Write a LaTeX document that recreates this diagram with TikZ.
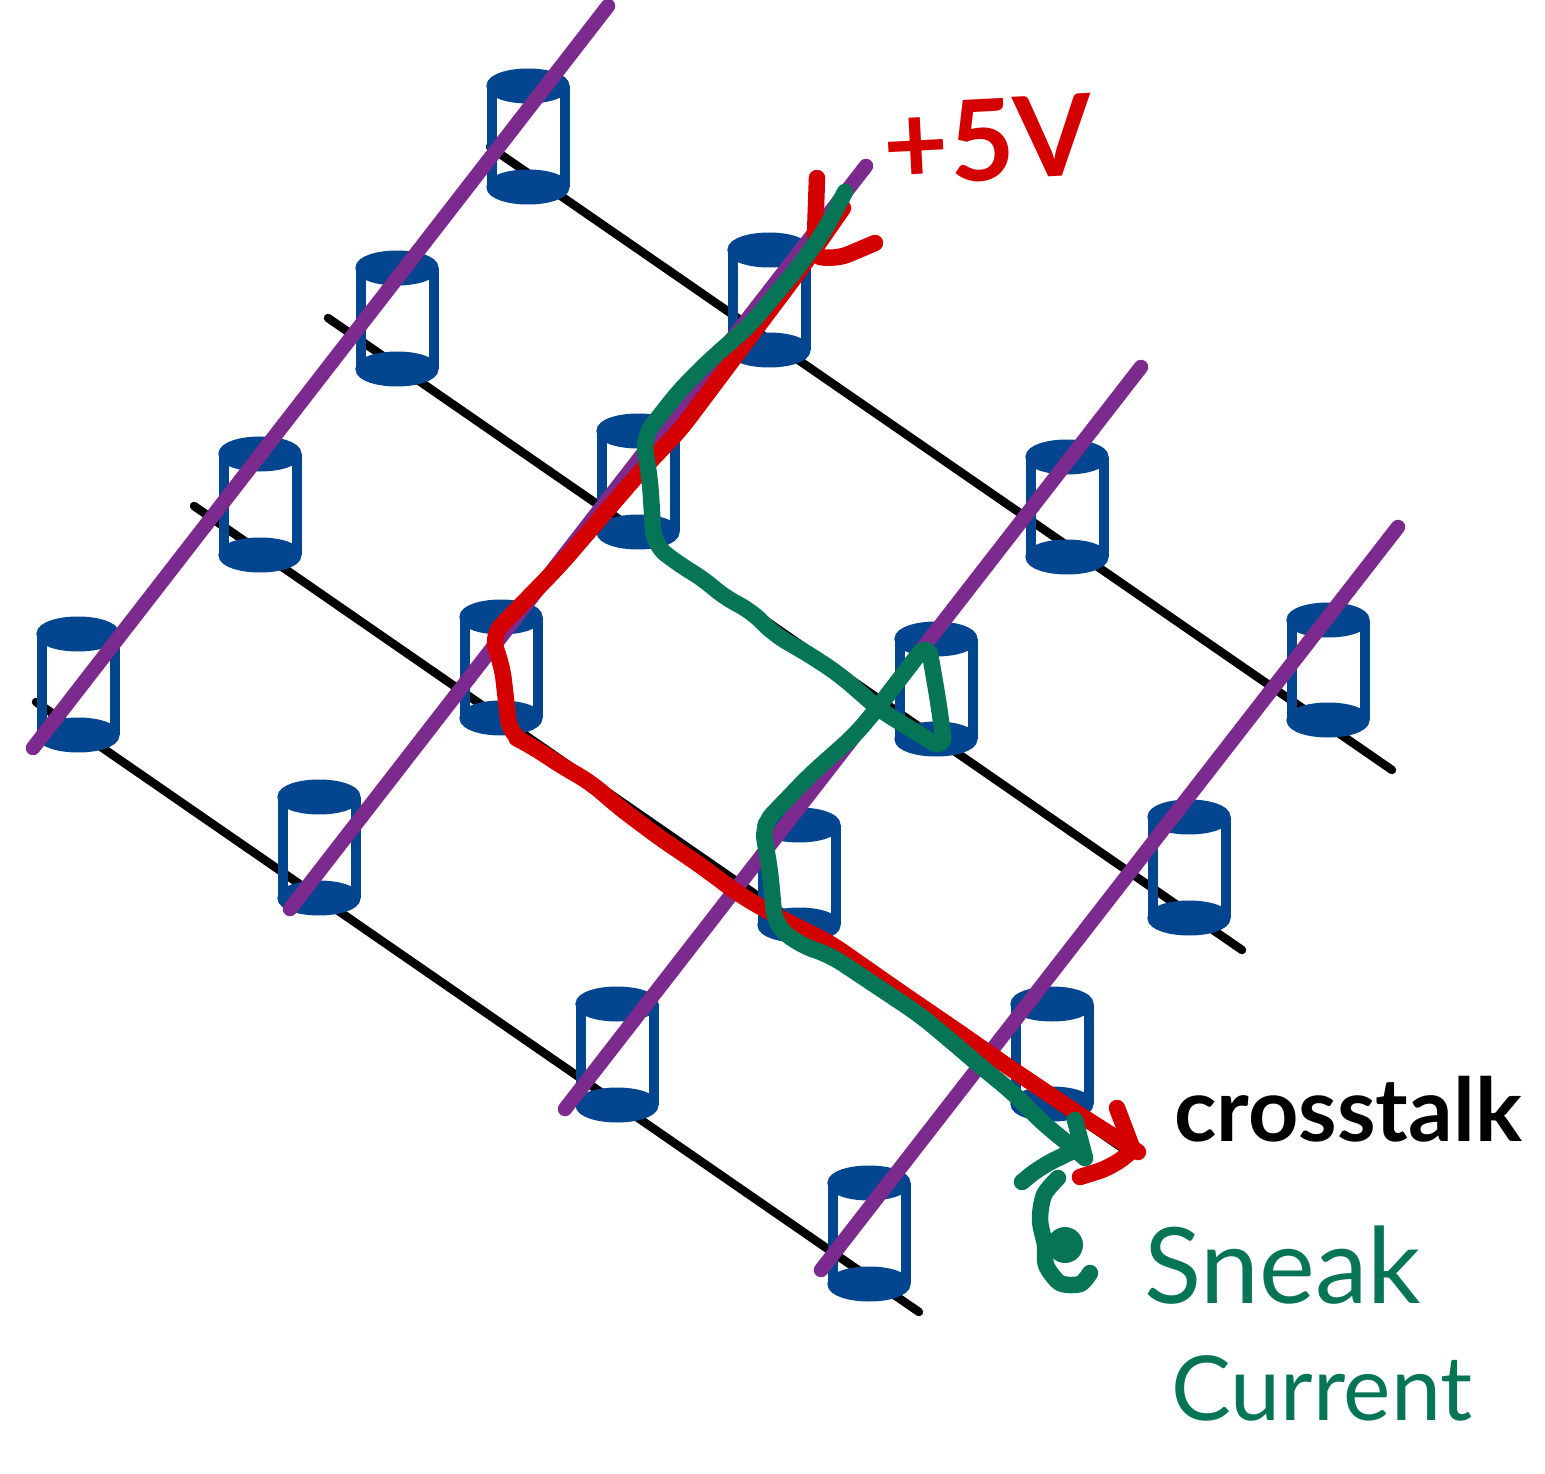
\documentclass[tikz,border=0pt]{standalone}
\usepackage{fontspec}
\usepackage{xcolor}
\setmainfont{Lato}
\usetikzlibrary{arrows.meta,calc,positioning,shapes.geometric}
\definecolor{cellblue}{HTML}{04458F}
\definecolor{linepurple}{HTML}{7D2A8E}
\definecolor{crossred}{HTML}{D40000}
\definecolor{sneakgreen}{HTML}{067556}

\begin{document}
\begin{tikzpicture}[
        x=0.1mm,
        y=-0.1mm,
        cellcap/.style={
            ellipse,
            draw=cellblue,
            fill=cellblue,
            line width=1mm,
            minimum width=7.3mm,
            minimum height=2.5mm,
            inner sep=0pt,
            outer sep=0pt
        },
        wall/.style={
            draw=cellblue,
            line width=1mm
        },
        wordline/.style={
            draw=black,
            line width=0.85mm,
            line cap=round
        },
        bitline/.style={
            draw=linepurple,
            line width=1.45mm,
            line cap=round
        },
        crosspath/.style={
            draw=crossred,
            line width=1.65mm,
            line cap=round,
            line join=round,
            rounded corners=1.5mm
        },
        sneakpath/.style={
            draw=sneakgreen,
            line width=1.65mm,
            line cap=round,
            line join=round,
            rounded corners=1.5mm
        },
        textlabel/.style={
            inner sep=0pt,
            align=center
        }
    ]

        \path[use as bounding box] (0,0) rectangle (1545,1474);

        % Ends of the black lines
        \coordinate (word-a-start) at (490,147);
        \coordinate (word-a-end)   at (1392,770);
        \coordinate (word-b-start) at (328,318);
        \coordinate (word-b-end)   at (1242,950);
        \coordinate (word-c-start) at (194,506);
        \coordinate (word-c-end)   at (1125,1150);
        \coordinate (word-d-start) at (36,702);
        \coordinate (word-d-end)   at (919,1312);

        \foreach \w in {a,b,c,d} {
            \draw[wordline] (word-\w-start) -- (word-\w-end);
        }

        % Cylinders: name / x / top y / bottom y
        \foreach \n/\cx/\ty/\by in {
            1/528/86/187, 2/397/268/369, 3/260/454/555, 4/78/634/735,
            5/769/250/350, 6/638/431/532, 7/501/617/718, 8/319/797/898,
            9/1067/457/557, 10/936/639/739, 11/799/825/925, 12/617/1004/1105,
            13/1328/620/720, 14/1189/817/918, 15/1052/1004/1104, 16/869/1183/1284
        } {
            \node[cellcap] (top-\n)  at (\cx,\ty) {};
            \node[cellcap] (base-\n) at (\cx,\by) {};
            \draw[wall] (top-\n.west) -- (base-\n.west);
            \draw[wall] (top-\n.east) -- (base-\n.east);
        }

        % Purple lines
        \coordinate (bit-a-start) at (33,748);
        \coordinate (bit-a-end)   at (608,6);
        \coordinate (bit-b-start) at (290,909);
        \coordinate (bit-b-end)   at (866,166);
        \coordinate (bit-c-start) at (565,1109);
        \coordinate (bit-c-end)   at (1141,367);
        \coordinate (bit-d-start) at (821,1270);
        \coordinate (bit-d-end)   at (1398,527);

        \foreach \b in {a,b,c,d} {
            \draw[bitline] (bit-\b-start) -- (bit-\b-end);
        }

        % Crosstalk path, red
        \coordinate (cross-start) at (843,208);
        \coordinate (cross-end)   at (1138,1152);

        \draw[crosspath]
            (cross-start) -- (800,270) -- (740,350) -- (680,430) -- (640,472)
            -- (560,565) -- (491,636) -- (502,665) -- (510,735) -- (530,745)
            -- (565,768) -- (590,782) -- (620,808) -- (660,838) -- (700,865)
            -- (740,895) -- (780,918) -- (830,943) -- (900,992) -- (960,1033)
            -- (1010,1068) -- (1080,1115) -- (cross-end);

        % Red arrow strokes
        \coordinate (cross-head-a) at (817,178);
        \coordinate (cross-head-b) at (815,235);
        \coordinate (cross-head-c) at (820,257);
        \coordinate (cross-head-d) at (875,243);
        \coordinate (cross-head-e) at (1117,1108);
        \coordinate (cross-head-f) at (1133,1150);
        \coordinate (cross-head-g) at (1080,1177);

        \draw[crosspath] (cross-head-a) -- (cross-head-b);
        \draw[crosspath] (cross-head-c) -- (835,260) -- (cross-head-d);
        \draw[crosspath] (cross-head-e) -- (cross-head-f);
        \draw[crosspath] (cross-head-g) -- (1112,1167) -- (cross-head-f);

        % Sneak current path, green
        \coordinate (sneak-start) at (845,192);
        \coordinate (sneak-end)   at (1085,1158);

        \draw[sneakpath]
            (sneak-start) -- (825,230) -- (800,265) -- (750,325) -- (710,360)
            -- (680,390) -- (643,437) -- (650,480) -- (654,545) -- (680,565)
            -- (705,580) -- (725,598) -- (750,610) -- (775,635) -- (810,655)
            -- (840,675) -- (880,710) -- (945,750) -- (938,700) -- (928,642)
            -- (905,672) -- (880,705) -- (855,735) -- (810,775) -- (762,825)
            -- (770,870) -- (775,925) -- (800,945) -- (830,955) -- (860,975)
            -- (890,995) -- (920,1015) -- (950,1040) -- (985,1070)
            -- (1010,1090) -- (1045,1125) -- (1070,1145) -- (sneak-end);

        % Green arrow strokes
        \coordinate (sneak-head-a) at (1075,1120);
        \coordinate (sneak-head-b) at (1022,1182);
        \coordinate (sneak-head-c) at (1075,1150);

        \draw[sneakpath] (sneak-head-a) -- (sneak-end);
        \draw[sneakpath] (sneak-head-b) -- (1040,1167) -- (sneak-head-c);

        % Green pointer up to the arrow
        \coordinate (pointer-start) at (1058,1178);
        \coordinate (pointer-end)   at (1090,1273);

        \draw[sneakpath,rounded corners=0pt] plot[smooth] coordinates {
            (pointer-start) (1044,1195) (1040,1220) (1045,1245) (1046,1265)
            (1060,1283) (1080,1284) (pointer-end)
        };
        \node[circle,fill=sneakgreen,minimum size=3.6mm,inner sep=0pt]
            (pointer-dot) at (1065,1245) {};

        % Texts
        \node[textlabel,text=crossred,font=\fontsize{32}{36}\selectfont\bfseries,rotate=3]
            (voltage) at (988,140) {+5V};
        \node[textlabel,font=\fontsize{25}{30}\selectfont\bfseries]
            (crosstalk) at (1348,1109) {crosstalk};
        \node[textlabel,text=sneakgreen,font=\fontsize{30}{34}\selectfont]
            (sneak) at (1283,1265) {Sneak};
        \node[textlabel,text=sneakgreen,font=\fontsize{25.5}{30}\selectfont]
            (current) at (1322,1388) {Current};

    \end{tikzpicture}
\end{document}
